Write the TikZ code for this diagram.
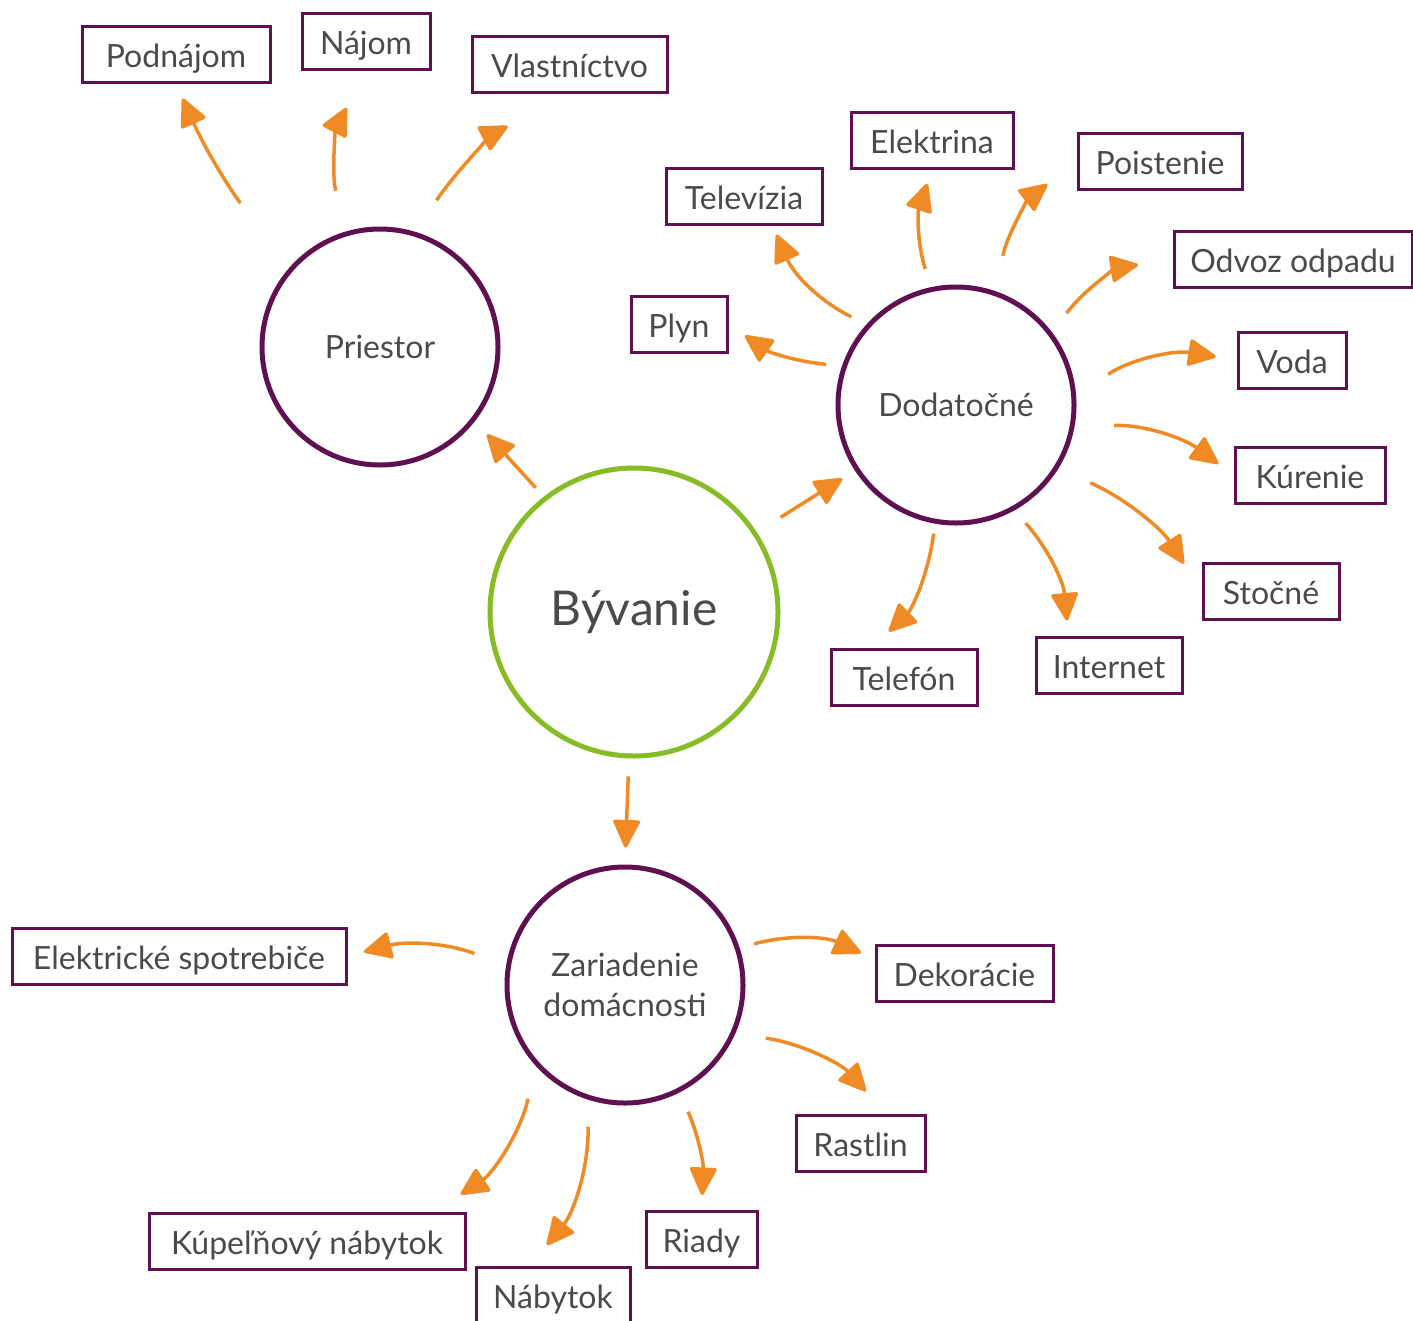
\documentclass[tikz,border=0pt]{standalone}
\usepackage{fontspec}
\setmainfont{Lato}
\usetikzlibrary{arrows.meta}

\definecolor{plum}{HTML}{5E1050}
\definecolor{leaf}{HTML}{86BC25}
\definecolor{tang}{HTML}{F08A24}
\definecolor{ink}{HTML}{4A4A4A}

\tikzset{
	hub/.style={circle, draw=plum, line width=5pt, inner sep=0pt, minimum size=236pt, text=ink, align=center, font=\fontsize{32}{40}\selectfont},
	item/.style={rectangle, draw=plum, line width=3pt, minimum height=56pt, inner xsep=4pt, inner ysep=0pt, text height=31pt, text depth=5pt, text=ink, font=\fontsize{32}{36}\selectfont},
	arr/.style={draw=tang, line width=3.5pt, -{Triangle[length=30pt,width=28pt,round]}},
}

\begin{document}
\begin{tikzpicture}[x=1pt, y=1pt]
			%%%%% START %%%%%
			\useasboundingbox (0,0) rectangle (1413,-1320);
			
			% circles
			\node[hub, draw=leaf, minimum size=288pt, font=\fontsize{48}{56}\selectfont] (byv) at (634,-612) {Bývanie};
			\node[hub] (prie) at (380,-347) {Priestor};
			\node[hub] (dod) at (956,-405) {Dodatočné};
			\node[hub] (zar) at (625,-985) {Zariadenie\\domácnosti};
			
			% priestor
			\node[item, minimum width=188pt] (podn) at (176,-54.5) {Podnájom};
			\node[item, minimum width=128pt] (najom) at (366,-41) {Nájom};
			\node[item, minimum width=195pt] (vlas) at (569.5,-64) {Vlastníctvo};
			
			% dodatocne
			\node[item, minimum width=156pt] (tele) at (744,-196) {Televízia};
			\node[item, minimum width=162pt] (elek) at (932,-140) {Elektrina};
			\node[item, minimum width=164pt] (poist) at (1160,-161.5) {Poistenie};
			\node[item, minimum width=238pt] (odvoz) at (1293,-259) {Odvoz odpadu};
			\node[item, minimum width=96pt] (plyn) at (679,-324) {Plyn};
			\node[item, minimum width=108pt] (voda) at (1292,-360) {Voda};
			\node[item, minimum width=150pt] (kur) at (1310,-475) {Kúrenie};
			\node[item, minimum width=136pt] (stoc) at (1271,-591.5) {Stočné};
			\node[item, minimum width=146pt] (inter) at (1109,-665) {Internet};
			\node[item, minimum width=146pt] (telef) at (904,-677) {Telefón};
			
			% zariadenie
			\node[item, minimum width=334pt] (espo) at (179,-956) {Elektrické spotrebiče};
			\node[item, minimum width=177pt] (deko) at (964.5,-973.5) {Dekorácie};
			\node[item, minimum width=129pt] (rast) at (860.5,-1143) {Rastlin};
			\node[item, minimum width=316pt] (kupe) at (307,-1241) {Kúpeľňový nábytok};
			\node[item, minimum width=111pt] (riady) at (701.5,-1239.5) {Riady};
			\node[item, minimum width=154pt, anchor=north] (naby) at (553,-1266) {Nábytok};
			
			% main arrows
			\draw[arr, shorten <=12pt, shorten >=18pt] (byv.128) -- (prie.-38);
			\draw[arr, shorten <=28pt, shorten >=15pt] (byv.33) -- (dod.-147);
			\draw[arr, shorten <=18pt, shorten >=17pt] (byv.-92) -- (zar.90);
			
			\draw[arr, shorten <=80pt, shorten >=16pt] (prie.134) to[bend left=10] (podn.south);
			\draw[arr, shorten <=42pt, shorten >=42pt] (prie.107) to[bend left=20] (najom.south);
			\draw[arr, shorten <=38pt, shorten >=70pt] (prie.73) to[bend left=14] (vlas.south);
			
			\draw[arr, shorten <=16pt, shorten >=20pt] (dod.161) to[bend left=15] (plyn.east);
			\draw[arr, shorten <=17pt, shorten >=10pt] (dod.138) to[bend left=20] (tele.-46);
			\draw[arr, shorten <=19pt, shorten >=15pt] (dod.102) to[bend left=18] (elek.south);
			\draw[arr, shorten <=36pt, shorten >=37pt] (dod.71) to[bend left=20] (poist.west);
			\draw[arr, shorten <=24pt, shorten >=35pt] (dod.37) to[bend left=22] (odvoz.west);
			\draw[arr, shorten <=39pt, shorten >=21pt] (dod.4) to[bend left=22] (voda.west);
			\draw[arr, shorten <=40pt, shorten >=19pt] (dod.-11) to[bend left=20] (kur.west);
			\draw[arr, shorten <=35pt, shorten >=33pt] (dod.-32) to[bend left=17] (stoc.west);
			\draw[arr, shorten <=17pt, shorten >=15pt] (dod.-61) to[bend left=18] (inter.144);
			\draw[arr, shorten <=10pt, shorten >=23pt] (dod.-100) to[bend left=19] (telef.137);
			
			\draw[arr, shorten <=34pt, shorten >=17pt] (zar.171) to[bend right=18] (espo.east);
			\draw[arr, shorten <=15pt, shorten >=15pt] (zar.18) to[bend left=20] (deko.171);
			\draw[arr, shorten <=31pt, shorten >=30pt] (zar.-24) to[bend left=20] (rast.49);
			\draw[arr, shorten <=34pt, shorten >=31pt] (zar.-138) to[bend left=22] (kupe.13);
			\draw[arr, shorten <=27pt, shorten >=27pt] (zar.-108) to[bend left=20] (naby.128);
			\draw[arr, shorten <=21pt, shorten >=15pt] (zar.-63) to[bend left=13] (riady.north);
			
			%%%%% END %%%%%
\end{tikzpicture}
\end{document}
